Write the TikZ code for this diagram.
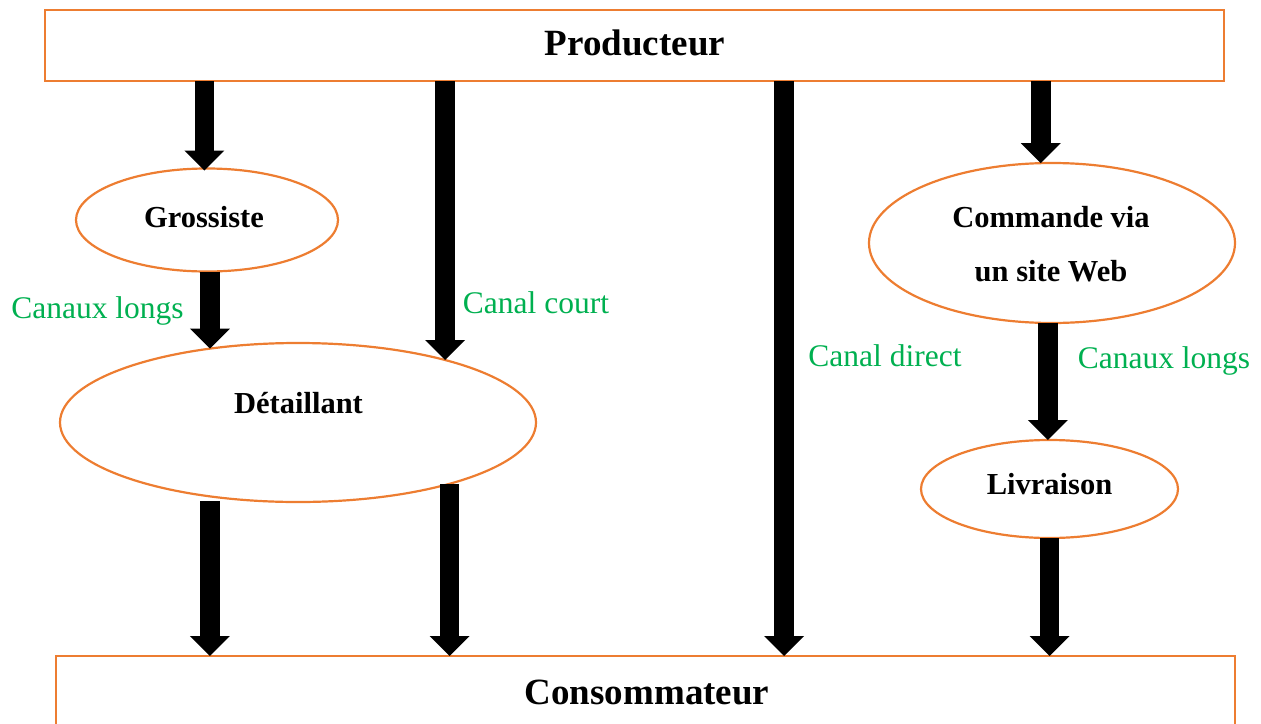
\documentclass[tikz,border=0pt]{standalone}
\usepackage{fontspec}
\setmainfont{Liberation Serif}
\usetikzlibrary{arrows.meta,shapes.geometric}
\definecolor{edge}{HTML}{ED7D31}
\definecolor{chan}{HTML}{00B050}
\tikzset{
  box/.style={draw=edge, line width=2.2pt, rectangle, inner sep=0pt, outer sep=0pt},
  oval/.style={draw=edge, line width=2.2pt, ellipse, inner sep=0pt, outer sep=0pt},
  fat/.style={line width=19.5pt, -{Triangle[width=40pt,length=20pt,line width=0pt]}},
  title/.style={font=\bfseries\fontsize{37}{44}\selectfont, inner sep=0pt, anchor=base},
  intext/.style={font=\bfseries\fontsize{30.5}{54}\selectfont, inner sep=0pt, anchor=base, align=center},
  chanlbl/.style={text=chan, font=\fontsize{31.5}{38}\selectfont, inner sep=0pt, anchor=base},
}
\begin{document}
\begin{tikzpicture}[x=1pt, y=-1pt]
\useasboundingbox (0,0) rectangle (1261,723);

% boxes at both ends of the chain
\node[box, minimum width=1179pt, minimum height=71pt] (prod) at (634.5,45.5) {};
\node[box, minimum width=1179pt, minimum height=72pt] (cons) at (645.5,692) {};
\node[title] (prodt) at (635,55) {Producteur};
\node[title] (const) at (647,704) {Consommateur};

% intermediaries
\node[oval, minimum width=262pt, minimum height=103pt] (gro) at (207,220) {};
\node[oval, minimum width=476pt, minimum height=159pt] (det) at (298,422.5) {};
\node[oval, minimum width=366pt, minimum height=160pt] (cmd) at (1052,243) {};
\node[oval, minimum width=257pt, minimum height=98pt] (liv) at (1049.5,489) {};

\node[intext] (grot) at (204,227) {Grossiste};
\node[intext] (dett) at (298.5,413) {Détaillant};
\node[intext, anchor=center] (cmdt) at (1051,244.5) {Commande via\\un site Web};
\node[intext] (livt) at (1049.5,494) {Livraison};

% long channel through wholesaler and retailer
\draw[fat] (prod.south -| gro.93) -- ([yshift=-2pt]gro.93);
\draw[fat] (gro.south -| det.140.7) -- (det.140.7);
\draw[fat] ([yshift=-5pt]det.-140) -- (cons.north -| det.-140);

% short channel through retailer
\draw[fat] (prod.south -| det.23) -- (det.23);
\draw[fat] (det.-22.5) -- (cons.north -| det.-22.5);

% direct channel
\draw[fat] ([xshift=149.5pt]prod.south) -- ([xshift=138.5pt]cons.north);

% web order and delivery
\draw[fat] (prod.south -| cmd.98.5) -- (cmd.98.5);
\draw[fat] (cmd.-93) -- (cmd.-93 |- liv.north);
\draw[fat] (liv.south) -- (cons.north -| liv.south);

% channel labels
\node[chanlbl] (l1) at (97.5,318) {Canaux longs};
\node[chanlbl] (l2) at (536,313) {Canal court};
\node[chanlbl] (l3) at (885,366) {Canal direct};
\node[chanlbl] (l4) at (1164,368) {Canaux longs};
\end{tikzpicture}
\end{document}
